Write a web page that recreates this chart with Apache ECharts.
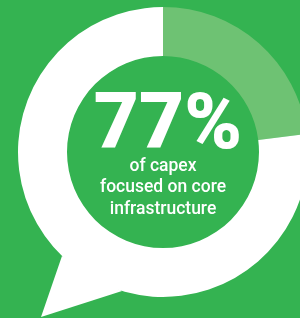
<!DOCTYPE html>
<html>
<head>
<meta charset="utf-8">
<script src="https://cdn.jsdelivr.net/npm/echarts@6/dist/echarts.min.js"></script>
<style>
  html, body { margin: 0; padding: 0; background: #34b351; }
  #chart { width: 300px; height: 318px; }
</style>
</head>
<body>
<div id="chart"></div>
<script>
// share of capex
var segments = ['other', 'core infrastructure'];
var shares = [23, 77];
var segColors = ['#6ec273', '#ffffff'];
var captionLines = ['of capex', 'focused on core', 'infrastructure'];

var chart = echarts.init(document.getElementById('chart'));

var pieData = segments.map(function (name, i) {
  return { name: name, value: shares[i], itemStyle: { color: segColors[i] } };
});

var option = {
  backgroundColor: '#34b351',
  animation: false,
  graphic: [
    {
      // speech bubble tail
      type: 'polygon',
      z: 1,
      shape: { points: [[62, 256], [41, 317], [122, 291]] },
      style: { fill: '#ffffff' }
    },
    {
      type: 'text',
      z: 10,
      x: 168,
      y: 128,
      style: {
        text: shares[1] + '%',
        fill: '#ffffff',
        font: '900 78px Roboto',
        textAlign: 'center',
        textVerticalAlign: 'middle'
      }
    },
    {
      type: 'text',
      z: 10,
      x: 163,
      y: 188,
      style: {
        text: captionLines.join('\n'),
        fill: '#ffffff',
        font: '500 17.5px Roboto',
        lineHeight: 21.5,
        textAlign: 'center',
        textVerticalAlign: 'middle'
      }
    }
  ],
  series: [
    {
      type: 'pie',
      z: 2,
      center: [163, 152],
      radius: [96, 145],
      startAngle: 90,
      clockwise: true,
      silent: true,
      label: { show: false },
      labelLine: { show: false },
      data: pieData
    }
  ]
};
chart.setOption(option);
</script>
</body>
</html>
